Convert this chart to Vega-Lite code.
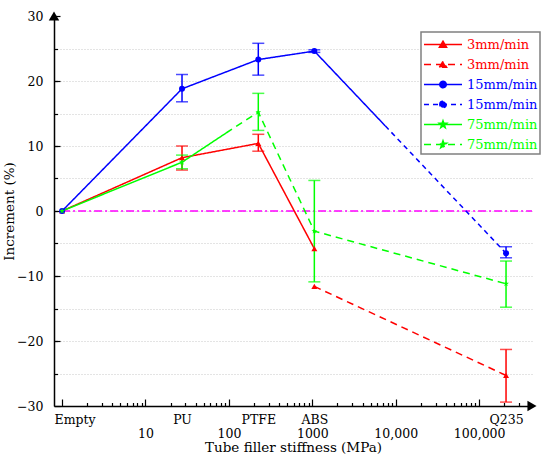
{
  "$schema": "https://vega.github.io/schema/vega-lite/v6.json",
  "width": 478,
  "height": 390,
  "autosize": {"type": "none"},
  "padding": {"left": 54, "top": 16, "right": 18, "bottom": 61},
  "background": "white",
  "datasets": {
    "ref": [
      {"x": 1, "y": 0},
      {"x": 430000, "y": 0}
    ],
    "lines": [
      {"series": "3mm/min|solid", "x": 1, "y": 0},
      {"series": "3mm/min|solid", "x": 27.4, "y": 8.2},
      {"series": "3mm/min|solid", "x": 225, "y": 10.4},
      {"series": "3mm/min|solid", "x": 1057, "y": -5.8},
      {"series": "3mm/min|dash", "x": 1057, "y": -11.6},
      {"series": "3mm/min|dash", "x": 210000, "y": -25.3},
      {"series": "15mm/min|solid", "x": 1, "y": 0},
      {"series": "15mm/min|solid", "x": 27.4, "y": 18.8},
      {"series": "15mm/min|solid", "x": 225, "y": 23.3},
      {"series": "15mm/min|solid", "x": 1057, "y": 24.6},
      {"series": "15mm/min|solid", "x": 7480, "y": 13.1},
      {"series": "15mm/min|dash", "x": 7480, "y": 13.1},
      {"series": "15mm/min|dash", "x": 210000, "y": -6.5},
      {"series": "75mm/min|solid", "x": 1, "y": 0},
      {"series": "75mm/min|solid", "x": 27.4, "y": 7.5},
      {"series": "75mm/min|solid", "x": 92.5, "y": 12.0},
      {"series": "75mm/min|dash", "x": 92.5, "y": 12.0},
      {"series": "75mm/min|dash", "x": 225, "y": 15.2},
      {"series": "75mm/min|dash", "x": 1057, "y": -3.1},
      {"series": "75mm/min|dash", "x": 210000, "y": -11.2}
    ],
    "points": [
      {"series": "3mm/min|solid", "marker": "tri", "x": 1, "y": 0},
      {"series": "3mm/min|solid", "marker": "tri", "x": 27.4, "y": 8.2},
      {"series": "3mm/min|solid", "marker": "tri", "x": 225, "y": 10.4},
      {"series": "3mm/min|solid", "marker": "tri", "x": 1057, "y": -5.8},
      {"series": "3mm/min|dash", "marker": "tri", "x": 1057, "y": -11.6},
      {"series": "3mm/min|dash", "marker": "tri", "x": 210000, "y": -25.3},
      {"series": "15mm/min|solid", "marker": "circ", "x": 1, "y": 0},
      {"series": "15mm/min|solid", "marker": "circ", "x": 27.4, "y": 18.8},
      {"series": "15mm/min|solid", "marker": "circ", "x": 225, "y": 23.3},
      {"series": "15mm/min|solid", "marker": "circ", "x": 1057, "y": 24.6},
      {"series": "15mm/min|dash", "marker": "circ", "x": 210000, "y": -6.5},
      {"series": "75mm/min|solid", "marker": "star", "x": 1, "y": 0},
      {"series": "75mm/min|solid", "marker": "star", "x": 27.4, "y": 7.5},
      {"series": "75mm/min|dash", "marker": "star", "x": 225, "y": 15.2},
      {"series": "75mm/min|dash", "marker": "star", "x": 1057, "y": -3.1},
      {"series": "75mm/min|dash", "marker": "star", "x": 210000, "y": -11.2}
    ],
    "errors": [
      {"series": "3mm/min|solid", "x": 27.4, "lo": 6.3, "hi": 10.0},
      {"series": "3mm/min|solid", "x": 225, "lo": 9.2, "hi": 11.8},
      {"series": "3mm/min|dash", "x": 210000, "lo": -29.4, "hi": -21.3},
      {"series": "15mm/min|solid", "x": 27.4, "lo": 16.8, "hi": 21.0},
      {"series": "15mm/min|solid", "x": 225, "lo": 20.9, "hi": 25.8},
      {"series": "15mm/min|solid", "x": 1057, "lo": 24.4, "hi": 24.8},
      {"series": "15mm/min|dash", "x": 210000, "lo": -7.2, "hi": -5.5},
      {"series": "75mm/min|solid", "x": 27.4, "lo": 6.5, "hi": 8.6},
      {"series": "75mm/min|dash", "x": 225, "lo": 12.4, "hi": 18.1},
      {"series": "75mm/min|dash", "x": 1057, "lo": -10.9, "hi": 4.7},
      {"series": "75mm/min|dash", "x": 210000, "lo": -14.8, "hi": -7.7}
    ],
    "arrows": [
      {"x": 0.8, "y": 30, "dir": "up"},
      {"x": 430000, "y": -30, "dir": "right"}
    ]
  },
  "layer": [
    {
      "data": {"name": "ref"},
      "mark": {"type": "line", "color": "#ff00ff", "strokeWidth": 1.5, "strokeDash": [8, 3, 2, 3]},
      "encoding": {
        "x": {
          "field": "x", "type": "quantitative",
          "scale": {"type": "log", "domain": [0.8, 430000], "nice": false},
          "axis": {
            "orient": "bottom",
            "values": [1, 10, 100, 1000, 10000, 100000],
            "labelExpr": "datum.value < 5 ? '' : datum.value >= 10000 ? format(datum.value, ',') : format(datum.value, 'd')",
            "tickSize": -7,
            "labelPadding": 38,
            "labelBaseline": "alphabetic",
            "labelOverlap": false,
            "labelFlush": false,
            "grid": false,
            "title": "Tube filler stiffness (MPa)",
            "titlePadding": 1
          }
        },
        "y": {
          "field": "y", "type": "quantitative",
          "scale": {"domain": [-30, 30], "nice": false, "zero": false},
          "axis": {
            "orient": "left",
            "values": [-30, -20, -10, 0, 10, 20, 30],
            "tickSize": -6,
            "labelPadding": 17,
            "labelOverlap": false,
            "labelFlush": false,
            "grid": false,
            "title": "Increment (%)",
            "titlePadding": 0
          }
        }
      }
    },
    {
      "data": {"name": "lines"},
      "mark": {"type": "line", "strokeWidth": 1.5},
      "encoding": {
        "x": {"field": "x", "type": "quantitative", "scale": {"type": "log", "domain": [0.8, 430000], "nice": false}, "axis": null},
        "y": {"field": "y", "type": "quantitative", "scale": {"domain": [-30, 30], "nice": false, "zero": false}, "axis": null},
        "color": {
          "field": "series", "type": "nominal",
          "scale": {
            "domain": ["3mm/min|solid", "3mm/min|dash", "15mm/min|solid", "15mm/min|dash", "75mm/min|solid", "75mm/min|dash"],
            "range": ["#ff0000", "#ff0000", "#0000ff", "#0000ff", "#00ff00", "#00ff00"]
          },
          "legend": {
            "orient": "none",
            "legendX": 367,
            "legendY": 16,
            "direction": "vertical",
            "title": null,
            "labelExpr": "split(datum.label, '|')[0]",
            "symbolSize": 361,
            "symbolStrokeWidth": 1.5,
            "labelFont": "DejaVu Serif",
            "labelFontSize": 13,
            "labelOffset": 23,
            "padding": 2,
            "rowPadding": 2,
            "strokeColor": "#808080",
            "fillColor": "white",
            "encode": {
              "legend": {"update": {"strokeWidth": {"value": 1.5}}},
              "symbols": {"update": {
                "fill": {"scale": "color", "field": "value"},
                "shape": {"signal": "indexof(datum.value, '3mm') == 0 ? 'M-1,0H3M0.62,0.3L1,-0.35L1.38,0.3Z' : indexof(datum.value, '15mm') == 0 ? 'M-1,0H3M0.66,0A0.34,0.34,0,1,1,1.34,0A0.34,0.34,0,1,1,0.66,0Z' : 'M-1,0H3M1,-0.4L1.094,-0.129L1.38,-0.124L1.152,0.049L1.235,0.324L1,0.16L0.765,0.324L0.848,0.049L0.62,-0.124L0.906,-0.129Z'"}
              }},
              "labels": {"update": {"fill": {"scale": "color", "field": "value"}}}
            }
          }
        },
        "strokeDash": {
          "field": "series", "type": "nominal",
          "scale": {
            "domain": ["3mm/min|solid", "3mm/min|dash", "15mm/min|solid", "15mm/min|dash", "75mm/min|solid", "75mm/min|dash"],
            "range": [[1, 0], [7, 5], [1, 0], [5, 4], [1, 0], [7, 5]]
          },
          "legend": {
            "orient": "none",
            "legendX": 367,
            "legendY": 16,
            "direction": "vertical",
            "title": null,
            "labelExpr": "split(datum.label, '|')[0]",
            "symbolSize": 361,
            "symbolStrokeWidth": 1.5,
            "labelFont": "DejaVu Serif",
            "labelFontSize": 13,
            "labelOffset": 23,
            "padding": 2,
            "rowPadding": 2,
            "strokeColor": "#808080",
            "fillColor": "white"
          }
        }
      }
    },
    {
      "data": {"name": "errors"},
      "mark": {"type": "rule", "strokeWidth": 1.5},
      "encoding": {
        "x": {
          "field": "x", "type": "quantitative",
          "scale": {"type": "log", "domain": [0.8, 430000], "nice": false},
          "axis": {
            "orient": "bottom",
            "values": [2, 3, 4, 5, 6, 7, 8, 9, 20, 30, 40, 50, 60, 70, 80, 90, 200, 300, 400, 500, 600, 700, 800, 900, 2000, 3000, 4000, 5000, 6000, 7000, 8000, 9000, 20000, 30000, 40000, 50000, 60000, 70000, 80000, 90000, 200000, 300000, 400000],
            "labels": false,
            "tickSize": -3.5,
            "domain": false,
            "grid": false,
            "title": null
          }
        },
        "y": {
          "field": "lo", "type": "quantitative",
          "scale": {"domain": [-30, 30], "nice": false, "zero": false},
          "axis": {
            "orient": "left",
            "values": [-25, -20, -15, -10, -5, 0, 5, 10, 15, 20, 25],
            "labels": false,
            "tickSize": -3.5,
            "domain": false,
            "grid": true,
            "gridColor": "#c8c8c8",
            "gridDash": [1, 2],
            "gridWidth": 1,
            "title": null
          }
        },
        "y2": {"field": "hi"},
        "color": {"field": "series", "type": "nominal", "legend": null}
      }
    },
    {
      "data": {"name": "errors"},
      "mark": {"type": "tick", "orient": "horizontal", "size": 12, "thickness": 1.5},
      "encoding": {
        "x": {"field": "x", "type": "quantitative", "scale": {"type": "log", "domain": [0.8, 430000], "nice": false}, "axis": null},
        "y": {"field": "lo", "type": "quantitative", "scale": {"domain": [-30, 30], "nice": false, "zero": false}, "axis": null},
        "color": {"field": "series", "type": "nominal", "legend": null}
      }
    },
    {
      "data": {"name": "errors"},
      "mark": {"type": "tick", "orient": "horizontal", "size": 12, "thickness": 1.5},
      "encoding": {
        "x": {"field": "x", "type": "quantitative", "scale": {"type": "log", "domain": [0.8, 430000], "nice": false}, "axis": null},
        "y": {"field": "hi", "type": "quantitative", "scale": {"domain": [-30, 30], "nice": false, "zero": false}, "axis": null},
        "color": {"field": "series", "type": "nominal", "legend": null}
      }
    },
    {
      "data": {"name": "points"},
      "mark": {"type": "point", "filled": true, "size": 36, "opacity": 1},
      "encoding": {
        "x": {
          "field": "x", "type": "quantitative",
          "scale": {"type": "log", "domain": [0.8, 430000], "nice": false},
          "axis": {
            "orient": "bottom",
            "values": [1, 27.4, 225, 1057, 210000],
            "labelExpr": "datum.value < 5 ? 'Empty' : datum.value < 100 ? 'PU' : datum.value < 1000 ? 'PTFE' : datum.value < 10000 ? 'ABS' : 'Q235'",
            "ticks": false,
            "domain": false,
            "grid": false,
            "labelPadding": 17,
            "labelBaseline": "alphabetic",
            "labelOverlap": false,
            "labelFlush": false,
            "labelAlign": {"condition": {"test": "datum.value < 5", "value": "left"}, "value": "center"},
            "labelOffset": {"condition": {"test": "datum.value < 5", "value": -8}, "value": 0},
            "title": null
          }
        },
        "y": {"field": "y", "type": "quantitative", "scale": {"domain": [-30, 30], "nice": false, "zero": false}, "axis": null},
        "color": {"field": "series", "type": "nominal", "legend": null},
        "shape": {
          "field": "marker", "type": "nominal",
          "scale": {
            "domain": ["tri", "circ", "star"],
            "range": ["triangle-up", "circle", "M0,-1L0.235,-0.324L0.951,-0.309L0.38,0.124L0.588,0.809L0,0.4L-0.588,0.809L-0.38,0.124L-0.951,-0.309L-0.235,-0.324Z"]
          },
          "legend": null
        }
      }
    },
    {
      "data": {"name": "arrows"},
      "mark": {"type": "point", "filled": true, "size": 110, "color": "black", "opacity": 1},
      "encoding": {
        "x": {"field": "x", "type": "quantitative", "scale": {"type": "log", "domain": [0.8, 430000], "nice": false}, "axis": null},
        "y": {"field": "y", "type": "quantitative", "scale": {"domain": [-30, 30], "nice": false, "zero": false}, "axis": null},
        "shape": {
          "field": "dir", "type": "nominal",
          "scale": {"domain": ["up", "right"], "range": ["triangle-up", "triangle-right"]},
          "legend": null
        }
      }
    }
  ],
  "resolve": {"axis": {"x": "independent", "y": "independent"}, "scale": {"shape": "independent"}},
  "config": {
    "view": {"stroke": null},
    "axis": {
      "labelFont": "DejaVu Serif",
      "titleFont": "DejaVu Serif",
      "labelFontSize": 12.5,
      "titleFontSize": 13.5,
      "titleFontWeight": "normal",
      "labelColor": "black",
      "titleColor": "black",
      "domainColor": "black",
      "tickColor": "black",
      "domainWidth": 1.5,
      "tickWidth": 1.2
    }
  }
}
